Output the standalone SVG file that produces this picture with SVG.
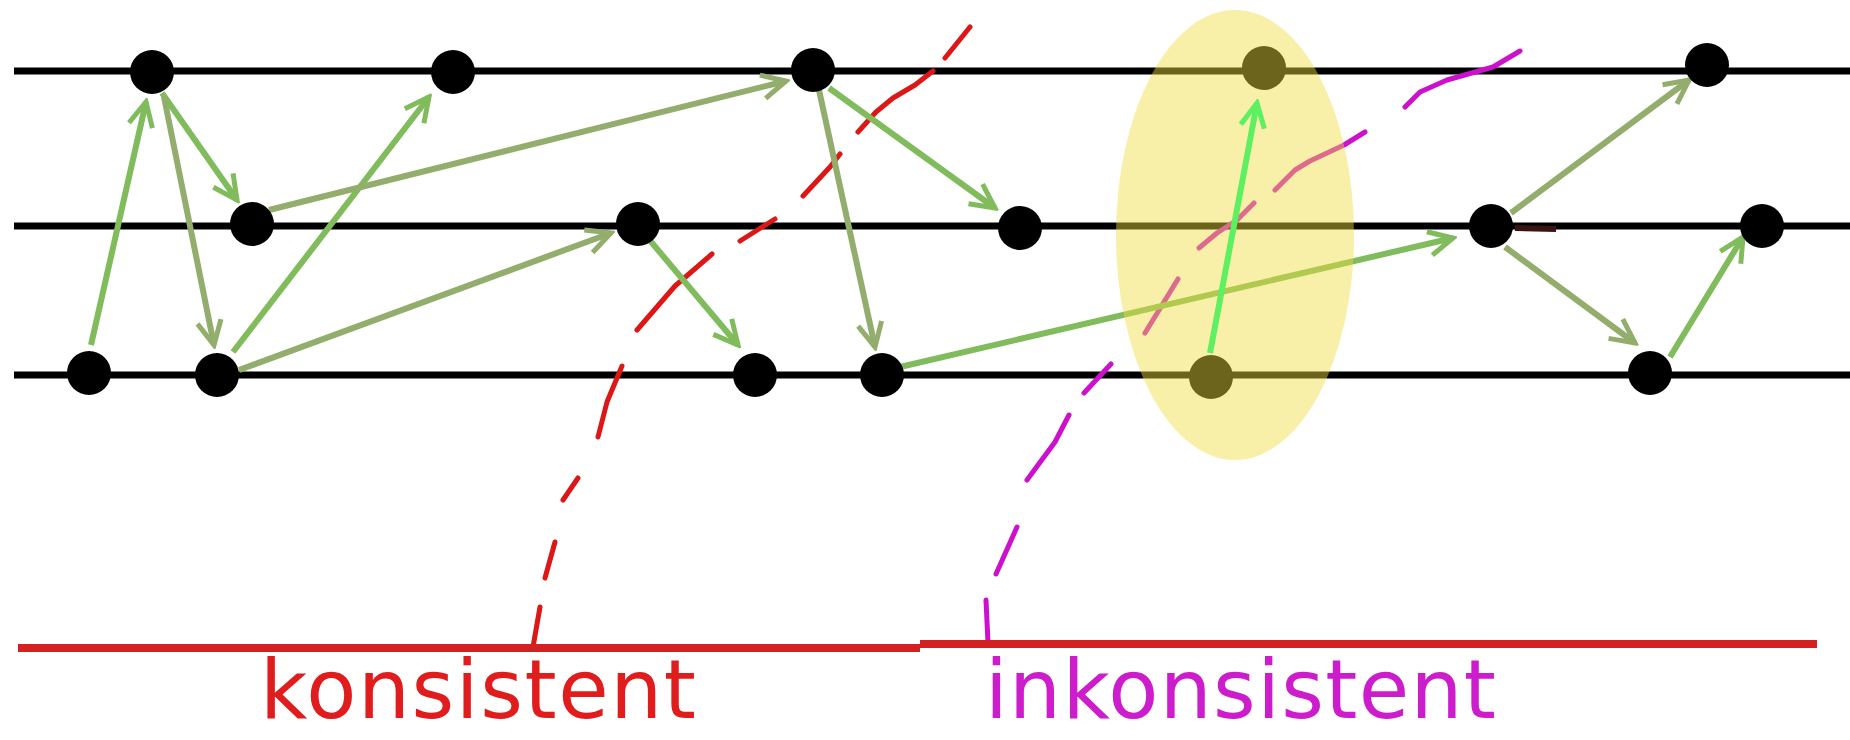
<svg xmlns="http://www.w3.org/2000/svg" width="1850" height="740" viewBox="0 0 1850 740">
<style>
.staff{stroke:#000;stroke-width:7;fill:none}
.node{fill:#000}
.ea{stroke:#80bb5c;stroke-width:6;fill:none;marker-end:url(#ha)}
.eb{stroke:#93ad6c;stroke-width:6;fill:none;marker-end:url(#hb)}
.eg{stroke:#5ef060;stroke-width:6;fill:none;marker-end:url(#hg)}
.red{stroke:#dd1616;stroke-width:5;fill:none;stroke-linecap:round;stroke-linejoin:round}
.mag{stroke:#cc10cc;stroke-width:5;fill:none;stroke-linecap:round;stroke-linejoin:round}
.lbl{font-family:"DejaVu Sans",sans-serif;font-size:82px}
</style>
<defs>
<marker id="ha" viewBox="-28 -16 32 32" refX="0" refY="0" markerWidth="32" markerHeight="32" markerUnits="userSpaceOnUse" orient="auto"><path d="M-24,-12 L0,0 L-24,12" fill="none" stroke="#80bb5c" stroke-width="5"/></marker>
<marker id="hb" viewBox="-28 -16 32 32" refX="0" refY="0" markerWidth="32" markerHeight="32" markerUnits="userSpaceOnUse" orient="auto"><path d="M-24,-12 L0,0 L-24,12" fill="none" stroke="#93ad6c" stroke-width="5"/></marker>
<marker id="hg" viewBox="-28 -16 32 32" refX="0" refY="0" markerWidth="32" markerHeight="32" markerUnits="userSpaceOnUse" orient="auto"><path d="M-24,-12 L0,0 L-24,12" fill="none" stroke="#5ef060" stroke-width="5"/></marker>
</defs>
<rect width="1850" height="740" fill="#fff"/>
<g id="staff">
<line class="staff" x1="14" y1="71" x2="1850" y2="71"/>
<line class="staff" x1="14" y1="226" x2="1850" y2="226"/>
<line class="staff" x1="14" y1="375" x2="1850" y2="375"/>
</g>
<g id="cuts">
<path class="red" d="M970,27 L945,58 M933,71 L915,85 L893,98 L876,112 L858,132 M840,154 L830,167 L803,196 M775,219 L740,241 M712,254 L675,286 L637,330 M622,366 L607,402 L598,437 M578,478 L563,500 M555,542 L545,578 M540,607 L533,647"/>
<path class="mag" d="M1520,51 L1493,67 L1447,80 L1420,92 L1405,107 M1365,132 L1344,145 L1310,161 L1295,170 L1275,190 M1254,203 L1237,220 L1217,233 L1199,248 M1178,279 L1145,333 M1111,364 L1084,393 M1069,415 L1055,442 L1027,480 M1017,527 L996,574 M986,600 L988,643"/>
<path d="M18,648 L920,648 M920,644 L1817,644" stroke="#d42020" stroke-width="8" fill="none"/>
</g>
<g id="connectors">
<line class="ea" x1="91" y1="345" x2="146" y2="102"/>
<line class="ea" x1="162" y1="93" x2="237" y2="200"/>
<line class="eb" x1="164" y1="97" x2="214" y2="345"/>
<line class="ea" x1="233" y1="352" x2="429" y2="97"/>
<line class="eb" x1="269" y1="210" x2="786" y2="81"/>
<line class="eb" x1="239" y1="370" x2="611" y2="233"/>
<line class="ea" x1="829" y1="88" x2="995" y2="208"/>
<line class="eb" x1="819" y1="90" x2="875" y2="347"/>
<line class="ea" x1="647" y1="237" x2="738" y2="345"/>
<line class="ea" x1="900" y1="367" x2="1453" y2="238"/>
<line class="eb" x1="1511" y1="213" x2="1689" y2="80"/>
<line class="eb" x1="1505" y1="247" x2="1635" y2="343"/>
<line class="ea" x1="1670" y1="357" x2="1743" y2="237"/>
<line x1="1515" y1="228" x2="1556" y2="229" stroke="#3a1414" stroke-width="6"/>
</g>
<g id="nA"><circle class="node" cx="152" cy="72" r="22"/></g>
<g id="nB"><circle class="node" cx="453" cy="72" r="22"/></g>
<g id="nC"><circle class="node" cx="252" cy="224" r="22"/></g>
<g id="nD"><circle class="node" cx="89" cy="373" r="22"/></g>
<g id="nE"><circle class="node" cx="217" cy="375" r="22"/></g>
<g id="nF"><circle class="node" cx="813" cy="70" r="22"/></g>
<g id="nG"><circle class="node" cx="638" cy="224" r="22"/></g>
<g id="nH"><circle class="node" cx="1020" cy="228" r="22"/></g>
<g id="nI"><circle class="node" cx="755" cy="375" r="22"/></g>
<g id="nJ"><circle class="node" cx="882" cy="375" r="22"/></g>
<g id="nL"><circle class="node" cx="1264" cy="68" r="22"/></g>
<g id="nM"><circle class="node" cx="1211" cy="377" r="22"/></g>
<g id="nK"><circle class="node" cx="1491" cy="226" r="22"/></g>
<g id="nN"><circle class="node" cx="1707" cy="65" r="22"/></g>
<g id="nO"><circle class="node" cx="1762" cy="226" r="22"/></g>
<g id="nP"><circle class="node" cx="1650" cy="373" r="22"/></g>
<g id="highlight">
<ellipse cx="1235" cy="235" rx="119" ry="225" fill="#f0dc40" fill-opacity="0.45"/>
<line class="eg" x1="1210" y1="353" x2="1257" y2="103"/>
</g>
<g id="labels">
<text class="lbl" x="260" y="718" fill="#e01c1c" textLength="436">konsistent</text>
<text class="lbl" x="985" y="718" fill="#cc1ccc" textLength="511">inkonsistent</text>
</g>
</svg>
